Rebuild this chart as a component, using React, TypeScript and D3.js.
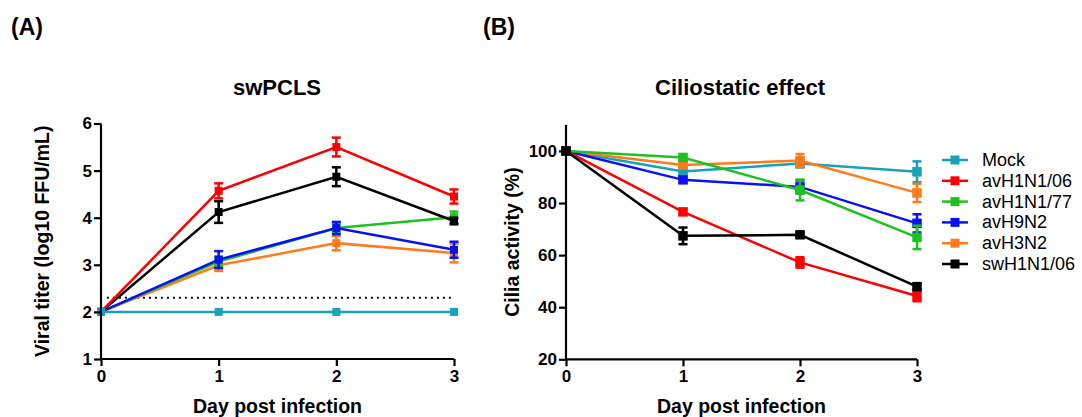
import React, { useEffect, useRef } from "react";
import * as d3 from "d3";

const days = [0, 1, 2, 3];
const seriesNames = ["Mock", "avH1N1/06", "avH1N1/77", "avH9N2", "avH3N2", "swH1N1/06"];
const seriesColors = ["#17a2b8", "#ff0000", "#1ec21e", "#0a10f5", "#ff7a1c", "#000000"];

// panel A: viral titer (log10 FFU/mL)
const titerMock = [2, 2, 2, 2];
const titerAvH1N1_06 = [2, 4.57, 5.5, 4.45];
const titerAvH1N1_77 = [2, 3.07, 3.78, 4.01];
const titerAvH9N2 = [2, 3.11, 3.78, 3.32];
const titerAvH3N2 = [2, 2.99, 3.46, 3.25];
const titerSwH1N1_06 = [2, 4.12, 4.87, 3.93];
const titerErrMock = [0, 0, 0, 0];
const titerErrAvH1N1_06 = [0, 0.16, 0.2, 0.15];
const titerErrAvH1N1_77 = [0, 0.1, 0.1, 0.12];
const titerErrAvH9N2 = [0, 0.18, 0.13, 0.17];
const titerErrAvH3N2 = [0, 0.12, 0.15, 0.2];
const titerErrSwH1N1_06 = [0, 0.23, 0.2, 0.07];
const detectionLimit = 2.3;

// panel B: cilia activity (%)
const ciliaMock = [100, 92.1, 95.2, 92];
const ciliaAvH1N1_06 = [100, 76.6, 57.2, 44.3];
const ciliaAvH1N1_77 = [100, 97.5, 85, 66.8];
const ciliaAvH9N2 = [100, 88.9, 86.2, 72.2];
const ciliaAvH3N2 = [100, 94.6, 96.3, 83.9];
const ciliaSwH1N1_06 = [100, 67.4, 67.8, 47.9];
const ciliaErrMock = [0, 1, 1.5, 4];
const ciliaErrAvH1N1_06 = [0, 1, 2, 2];
const ciliaErrAvH1N1_77 = [0, 1, 4, 4.5];
const ciliaErrAvH9N2 = [0, 1, 2.5, 3.5];
const ciliaErrAvH3N2 = [0, 1, 2.5, 3.5];
const ciliaErrSwH1N1_06 = [0, 3.2, 0.8, 1];

const titerTicks = [1, 2, 3, 4, 5, 6];
const ciliaTicks = [20, 40, 60, 80, 100];

const titerSeries = [titerMock, titerAvH1N1_06, titerAvH1N1_77, titerAvH9N2, titerAvH3N2, titerSwH1N1_06];
const titerErrs = [titerErrMock, titerErrAvH1N1_06, titerErrAvH1N1_77, titerErrAvH9N2, titerErrAvH3N2, titerErrSwH1N1_06];
const ciliaSeries = [ciliaMock, ciliaAvH1N1_06, ciliaAvH1N1_77, ciliaAvH9N2, ciliaAvH3N2, ciliaSwH1N1_06];
const ciliaErrs = [ciliaErrMock, ciliaErrAvH1N1_06, ciliaErrAvH1N1_77, ciliaErrAvH9N2, ciliaErrAvH3N2, ciliaErrSwH1N1_06];

const FONT = "'Liberation Sans', Arial, Helvetica, sans-serif";

function drawPanel(svg, opts) {
  const { x, y, ticks, series, errs, order, marker, title, titleX, yLabel, yLabelX, extra } = opts;
  const g = svg.append("g");

  if (extra) extra(g);

  // series
  const line = d3
    .line<number>()
    .x((_, i) => x(days[i]))
    .y((d) => y(d));

  order.forEach((si) => {
    const vals = series[si];
    const err = errs[si];
    const color = seriesColors[si];
    const sg = g.append("g");
    sg.append("path")
      .attr("d", line(vals))
      .attr("fill", "none")
      .attr("stroke", color)
      .attr("stroke-width", 2.5);
    vals.forEach((v, i) => {
      const e = err[i];
      if (e > 0) {
        const cx = x(days[i]);
        sg.append("line")
          .attr("x1", cx).attr("x2", cx)
          .attr("y1", y(v - e)).attr("y2", y(v + e))
          .attr("stroke", color).attr("stroke-width", 2.5);
        [v - e, v + e].forEach((w) => {
          sg.append("line")
            .attr("x1", cx - 4.5).attr("x2", cx + 4.5)
            .attr("y1", y(w)).attr("y2", y(w))
            .attr("stroke", color).attr("stroke-width", 2.5);
        });
      }
      sg.append("rect")
        .attr("x", x(days[i]) - marker / 2)
        .attr("y", y(v) - marker / 2)
        .attr("width", marker)
        .attr("height", marker)
        .attr("fill", color);
    });
  });

  // axes
  const [x0, x1] = x.range();
  const [y0, yTop] = y.range();
  const xAxis = g
    .append("g")
    .attr("transform", `translate(0,${y0})`)
    .call(d3.axisBottom(x).tickValues(days).tickSize(7).tickSizeOuter(0).tickFormat(d3.format("d")));
  const yAxis = g
    .append("g")
    .attr("transform", `translate(${x0},0)`)
    .call(d3.axisLeft(y).tickValues(ticks).tickSize(7).tickSizeOuter(0).tickFormat(d3.format("d")));

  [xAxis, yAxis].forEach((a) => {
    a.select(".domain").attr("stroke", "#000").attr("stroke-width", 2.2);
    a.selectAll(".tick line").attr("stroke", "#000").attr("stroke-width", 2.2);
    a.selectAll(".tick text")
      .attr("fill", "#000")
      .style("font-family", FONT)
      .style("font-size", "17px")
      .style("font-weight", "bold");
  });
  xAxis.selectAll(".tick text").attr("dy", "0.71em").attr("y", 11);
  yAxis.selectAll(".tick text").attr("x", -9);
  yAxis.select(".domain").attr("d", `M0,${y0}V${yTop}`);
  xAxis.select(".domain").attr("d", `M${x0},0H${x1}`);

  g.append("text")
    .attr("x", (x0 + x1) / 2)
    .attr("y", 413)
    .attr("text-anchor", "middle")
    .style("font-family", FONT)
    .style("font-size", "19.5px")
    .style("font-weight", "bold")
    .text("Day post infection");

  g.append("text")
    .attr("transform", `translate(${yLabelX},${(y0 + yTop) / 2}) rotate(-90)`)
    .attr("text-anchor", "middle")
    .style("font-family", FONT)
    .style("font-size", "19.5px")
    .style("font-weight", "bold")
    .text(yLabel);

  g.append("text")
    .attr("x", titleX)
    .attr("y", 95)
    .attr("text-anchor", "middle")
    .style("font-family", FONT)
    .style("font-size", "22px")
    .style("font-weight", "bold")
    .text(title);
}

const App = () => {
  const svgRef = useRef(null);

  useEffect(() => {
    const svg = d3.select(svgRef.current);
    svg.selectAll("*").remove();

    svg.append("rect").attr("width", 1082).attr("height", 417).attr("fill", "#fff");

    // panel labels
    [["(A)", 11], ["(B)", 483]].forEach(([t, px]) => {
      svg.append("text")
        .attr("x", px)
        .attr("y", 35)
        .style("font-family", FONT)
        .style("font-size", "23px")
        .style("font-weight", "bold")
        .text(t as string);
    });

    const xA = d3.scaleLinear().domain([0, 3]).range([101, 454]);
    const yA = d3.scaleLinear().domain([1, 6]).range([359, 123.5]);
    drawPanel(svg, {
      x: xA,
      y: yA,
      ticks: titerTicks,
      series: titerSeries,
      errs: titerErrs,
      order: [4, 2, 3, 5, 1, 0],
      marker: 8,
      title: "swPCLS",
      titleX: 277,
      yLabel: "Viral titer (log10 FFU/mL)",
      yLabelX: 49,
      extra: (g) => {
        g.append("line")
          .attr("x1", xA(0.05)).attr("x2", xA(3))
          .attr("y1", yA(detectionLimit)).attr("y2", yA(detectionLimit))
          .attr("stroke", "#000")
          .attr("stroke-width", 2)
          .attr("stroke-dasharray", "2,4");
      },
    });

    const xB = d3.scaleLinear().domain([0, 3]).range([566, 917]);
    const yB = d3.scaleLinear().domain([20, 110]).range([359.3, 124.9]);
    drawPanel(svg, {
      x: xB,
      y: yB,
      ticks: ciliaTicks,
      series: ciliaSeries,
      errs: ciliaErrs,
      order: [0, 4, 3, 2, 1, 5],
      marker: 9.5,
      title: "Ciliostatic effect",
      titleX: 740,
      yLabel: "Cilia activity (%)",
      yLabelX: 519,
    });

    // legend
    const lg = svg.append("g");
    seriesNames.forEach((name, i) => {
      const cy = 160 + i * 20.8;
      lg.append("line")
        .attr("x1", 942).attr("x2", 968)
        .attr("y1", cy).attr("y2", cy)
        .attr("stroke", seriesColors[i])
        .attr("stroke-width", 2.5);
      lg.append("rect")
        .attr("x", 955 - 4.5).attr("y", cy - 4.5)
        .attr("width", 9).attr("height", 9)
        .attr("fill", seriesColors[i]);
      lg.append("text")
        .attr("x", 982)
        .attr("y", cy + 6)
        .style("font-family", FONT)
        .style("font-size", "18px")
        .text(name);
    });
  }, []);

  return (
    <div style={{ position: "absolute", left: 0, top: 0 }}>
      <svg ref={svgRef} width={1082} height={417} style={{ display: "block" }} />
    </div>
  );
};

export default App;
